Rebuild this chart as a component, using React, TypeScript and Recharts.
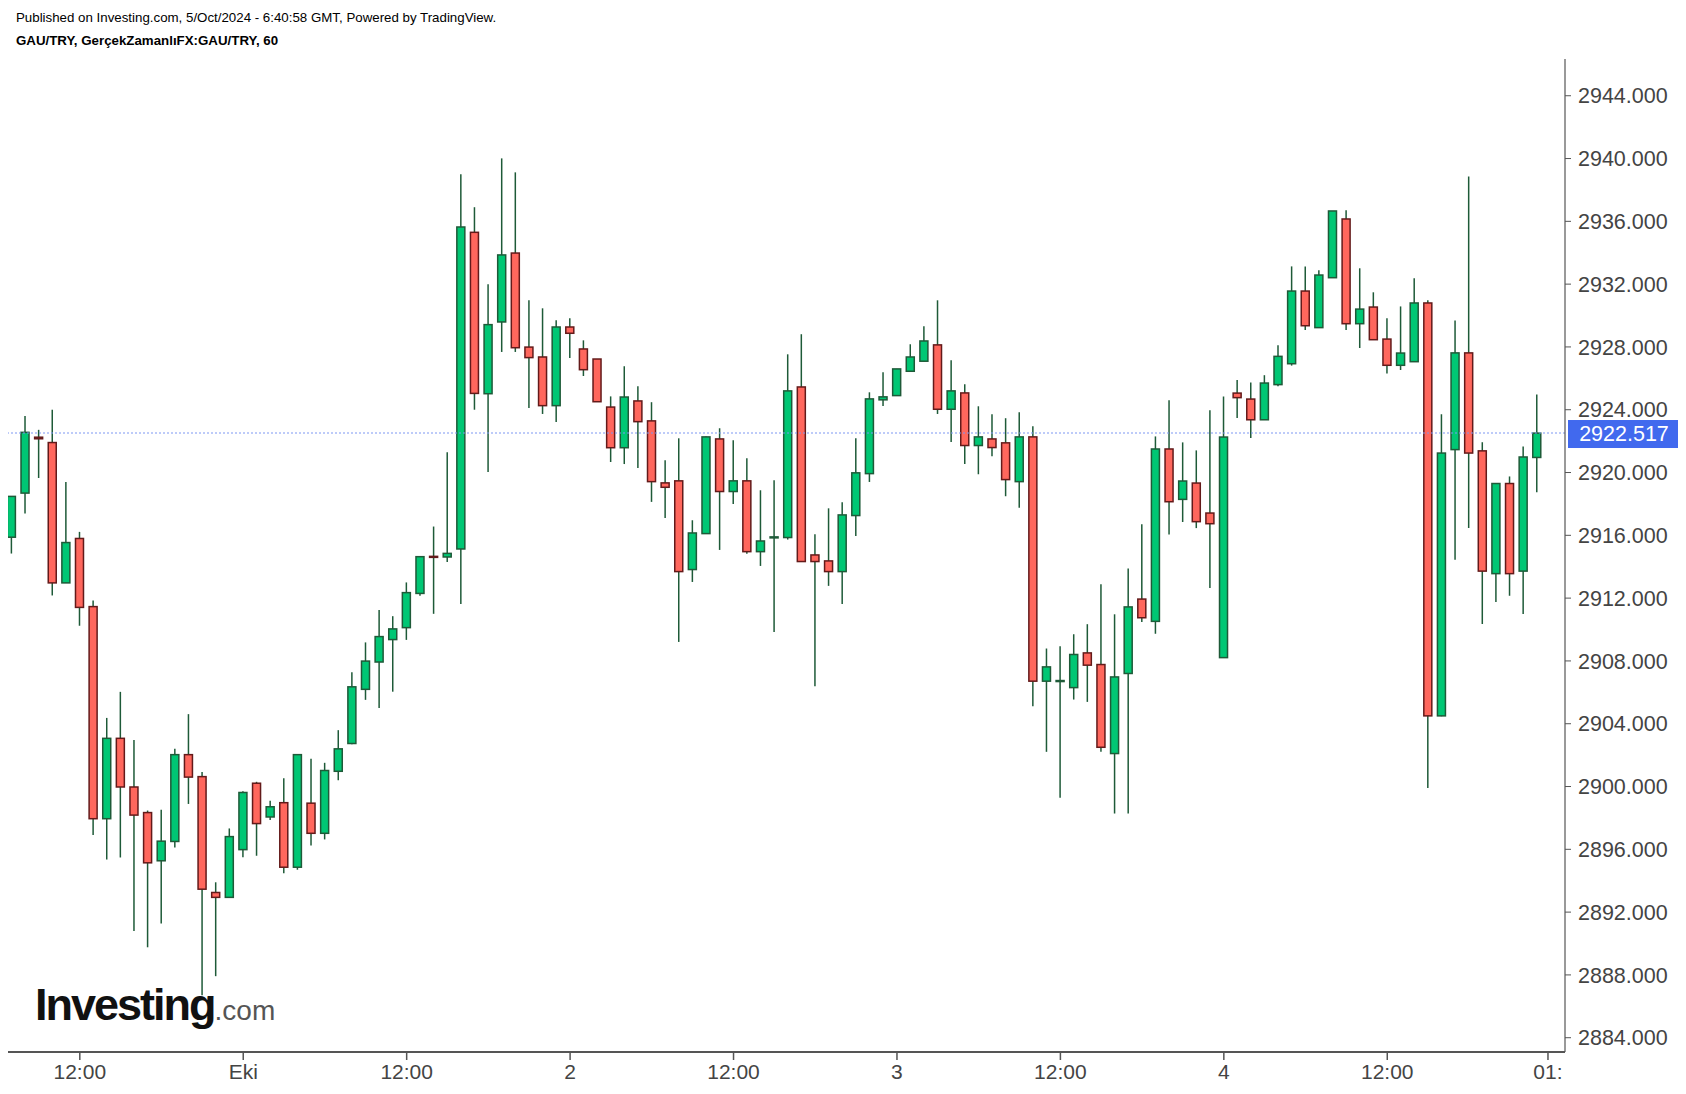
import React from 'react';
import { ComposedChart, Bar, XAxis, YAxis, ReferenceLine } from 'recharts';

// hourly candles, GAU/TRY
const opens = [
  2915.88, 2918.69, 2922.25, 2921.91, 2912.97, 2915.8, 2911.46, 2897.95, 2903.07, 2899.97,
  2898.34, 2895.27, 2896.5, 2902.03, 2900.63, 2893.25, 2892.94, 2895.98, 2900.21, 2898.06,
  2898.97, 2894.86, 2898.94, 2897.02, 2900.97, 2902.74, 2906.19, 2907.93, 2909.36, 2910.12,
  2912.3, 2914.66, 2914.62, 2915.13, 2935.3, 2925.02, 2929.59, 2933.98, 2927.99, 2927.36,
  2924.26, 2929.27, 2927.87, 2927.23, 2924.17, 2921.58, 2924.56, 2923.29, 2919.34, 2919.47,
  2913.82, 2916.11, 2922.14, 2918.79, 2919.47, 2914.96, 2915.88, 2915.86, 2925.45, 2914.75,
  2914.37, 2913.69, 2917.26, 2919.93, 2924.63, 2924.9, 2926.45, 2927.09, 2928.13, 2924.03,
  2925.07, 2921.72, 2922.14, 2921.89, 2919.42, 2922.27, 2906.71, 2906.72, 2906.3, 2908.51,
  2907.77, 2902.1, 2907.2, 2911.94, 2910.52, 2921.5, 2918.29, 2919.33, 2917.42, 2908.21,
  2925.06, 2924.68, 2923.36, 2925.6, 2926.93, 2931.56, 2929.23, 2932.41, 2936.15, 2929.48,
  2930.54, 2928.5, 2926.83, 2927.06, 2930.8, 2904.5, 2921.46, 2927.62, 2921.38, 2913.56,
  2919.3, 2913.72, 2920.96,
];
const highs = [
  2918.5, 2923.6, 2922.72, 2924.0, 2919.39, 2916.22, 2911.85, 2904.37, 2906.03, 2902.96,
  2898.47, 2898.52, 2902.4, 2904.61, 2900.92, 2893.9, 2897.33, 2899.7, 2900.3, 2899.1,
  2900.53, 2902.03, 2901.77, 2901.51, 2903.59, 2907.28, 2909.18, 2911.24, 2910.85, 2913.0,
  2914.64, 2916.56, 2921.29, 2939.0, 2936.9, 2931.99, 2940.01, 2939.12, 2930.97, 2930.46,
  2929.7, 2929.82, 2928.42, 2927.23, 2924.85, 2926.77, 2925.49, 2924.48, 2920.78, 2922.18,
  2916.96, 2922.3, 2922.82, 2922.06, 2920.91, 2918.87, 2919.51, 2927.53, 2928.81, 2916.07,
  2917.72, 2918.11, 2922.18, 2925.11, 2926.39, 2926.6, 2928.17, 2929.32, 2930.97, 2927.15,
  2925.62, 2924.22, 2923.71, 2923.46, 2923.84, 2922.95, 2908.79, 2908.94, 2909.7, 2910.34,
  2912.88, 2910.97, 2913.88, 2916.7, 2922.3, 2924.6, 2921.92, 2921.41, 2923.96, 2924.85,
  2925.9, 2925.74, 2926.2, 2928.1, 2933.13, 2933.13, 2932.88, 2936.66, 2936.7, 2933.01,
  2931.48, 2929.82, 2930.58, 2932.37, 2930.97, 2923.71, 2929.69, 2938.86, 2921.93, 2919.3,
  2919.75, 2921.65, 2924.97,
];
const lows = [
  2914.84, 2917.39, 2919.65, 2912.17, 2912.97, 2910.24, 2896.91, 2895.35, 2895.48, 2890.8,
  2889.76, 2891.27, 2896.11, 2898.89, 2886.7, 2887.92, 2892.9, 2895.5, 2895.59, 2897.87,
  2894.47, 2894.7, 2896.24, 2896.63, 2900.4, 2902.7, 2905.52, 2905.0, 2906.04, 2909.34,
  2912.15, 2911.0, 2914.3, 2911.63, 2924.0, 2920.03, 2927.68, 2927.68, 2924.11, 2923.73,
  2923.22, 2927.3, 2926.15, 2924.5, 2920.67, 2920.54, 2920.29, 2918.13, 2917.11, 2909.21,
  2913.03, 2916.1, 2915.07, 2918.0, 2914.82, 2914.05, 2909.85, 2915.73, 2914.3, 2906.39,
  2912.78, 2911.63, 2915.96, 2919.4, 2924.24, 2924.9, 2926.45, 2927.09, 2923.73, 2921.95,
  2920.55, 2919.89, 2921.04, 2918.49, 2917.75, 2905.11, 2902.21, 2899.28, 2905.54, 2905.39,
  2902.21, 2898.28, 2898.28, 2910.48, 2909.73, 2916.06, 2916.85, 2916.46, 2912.64, 2908.2,
  2923.47, 2922.2, 2923.36, 2925.5, 2926.81, 2929.08, 2929.2, 2932.4, 2929.08, 2927.93,
  2928.46, 2926.3, 2926.53, 2927.06, 2899.9, 2904.47, 2914.44, 2916.46, 2910.35, 2911.76,
  2912.15, 2910.99, 2918.75,
];
const closes = [
  2918.48, 2922.56, 2922.15, 2912.97, 2915.54, 2911.41, 2897.95, 2903.07, 2899.97, 2898.18,
  2895.14, 2896.52, 2902.03, 2900.6, 2893.46, 2892.94, 2896.81, 2899.62, 2897.64, 2898.71,
  2894.86, 2902.03, 2897.02, 2901.02, 2902.4, 2906.35, 2907.99, 2909.55, 2910.04, 2912.35,
  2914.64, 2914.6, 2914.85, 2935.64, 2925.04, 2929.42, 2933.86, 2927.95, 2927.32, 2924.26,
  2929.27, 2928.87, 2926.55, 2924.51, 2921.58, 2924.81, 2923.24, 2919.42, 2919.06, 2913.69,
  2916.15, 2922.27, 2918.79, 2919.47, 2914.96, 2915.64, 2915.9, 2925.2, 2914.33, 2914.33,
  2913.69, 2917.3, 2919.98, 2924.69, 2924.82, 2926.6, 2927.36, 2928.38, 2924.03, 2925.2,
  2921.72, 2922.27, 2921.59, 2919.55, 2922.27, 2906.71, 2907.62, 2906.75, 2908.41, 2907.73,
  2902.5, 2906.98, 2911.44, 2910.75, 2921.5, 2918.14, 2919.46, 2916.87, 2916.74, 2922.26,
  2924.77, 2923.36, 2925.7, 2927.4, 2931.56, 2929.35, 2932.58, 2936.66, 2929.48, 2930.41,
  2928.46, 2926.83, 2927.61, 2930.8, 2904.5, 2921.24, 2927.62, 2921.24, 2913.72, 2919.3,
  2913.56, 2920.99, 2922.51,
];

const timeTicks = [5, 17, 29, 41, 53, 65, 77, 89, 101, 112.8];
const timeLabels = ['12:00', 'Eki', '12:00', '2', '12:00', '3', '12:00', '4', '12:00', '01:'];
const priceTicks = [2884, 2888, 2892, 2896, 2900, 2904, 2908, 2912, 2916, 2920, 2924, 2928, 2932, 2936, 2940, 2944];
const lastPrice = 2922.517;

const UP = '#00C774';
const UP_EDGE = '#1E5A38';
const DOWN = '#FF675D';
const DOWN_EDGE = '#631A1A';
const WICK = '#1E5A38';
const FONT = '"Liberation Sans", Arial, sans-serif';

const data = opens.map((o, i) => ({ i, o, h: highs[i], l: lows[i], c: closes[i] }));

const Candle = (props: any) => {
  const { x, y, width, height, payload } = props;
  const { o, h, l, c } = payload;
  const cx = x + width / 2;
  const top = Math.min(y, y + height);
  const span = Math.abs(height);
  const k = span / (h - l);
  const bodyTop = top + (h - Math.max(o, c)) * k;
  const bodyH = Math.max(1, Math.abs(o - c) * k);
  const up = c >= o;
  return (
    <g>
      <line x1={cx} x2={cx} y1={top} y2={top + span} stroke={WICK} strokeWidth={1.5} />
      <rect
        x={cx - 4}
        y={bodyTop}
        width={8}
        height={bodyH}
        fill={up ? UP : DOWN}
        stroke={up ? UP_EDGE : DOWN_EDGE}
        strokeWidth={1.5}
      />
    </g>
  );
};

const PriceTag = (props: any) => {
  const { viewBox } = props;
  const right = viewBox.x + viewBox.width;
  const y = viewBox.y;
  return (
    <g>
      <rect x={right + 3} y={y - 13} width={110} height={28} fill="#4169EE" />
      <text
        x={right + 59}
        y={y + 1}
        fill="#fff"
        fontSize={21.5}
        fontFamily={FONT}
        textAnchor="middle"
        dominantBaseline="central"
      >
        {lastPrice.toFixed(3)}
      </text>
    </g>
  );
};

export default function App() {
  return (
    <div style={{ position: 'absolute', left: 0, top: 0, width: 1686, height: 1094, background: '#fff', fontFamily: FONT }}>
      <div style={{ position: 'absolute', left: 16, top: 10, fontSize: 13.3, lineHeight: '15px', color: '#000' }}>
        Published on Investing.com, 5/Oct/2024 - 6:40:58 GMT, Powered by TradingView.
      </div>
      <div style={{ position: 'absolute', left: 16, top: 33, fontSize: 13.3, lineHeight: '15px', fontWeight: 'bold', color: '#000' }}>
        GAU/TRY, GerçekZamanlıFX:GAU/TRY, 60
      </div>
      <ComposedChart width={1686} height={1094} data={data} margin={{ top: 59, right: 0, bottom: 2, left: 8 }}>
        <XAxis
          dataKey="i"
          type="number"
          domain={[-0.272, 114.05]}
          allowDataOverflow
          ticks={timeTicks}
          interval={0}
          tickFormatter={(v: number) => timeLabels[timeTicks.indexOf(v)] ?? ''}
          height={40}
          axisLine={{ stroke: '#555', strokeWidth: 2 }}
          tickLine={{ stroke: '#555', strokeWidth: 1.5 }}
          tickSize={8}
          tickMargin={4}
          tick={{ fill: '#444', fontSize: 21, fontFamily: FONT }}
        />
        <YAxis
          orientation="right"
          width={121}
          domain={[2883.09, 2946.34]}
          allowDataOverflow
          ticks={priceTicks}
          interval={0}
          tickFormatter={(v: number) => v.toFixed(3)}
          axisLine={{ stroke: '#555', strokeWidth: 1.2 }}
          tickLine={{ stroke: '#555' }}
          tickSize={6}
          tickMargin={7}
          tick={{ fill: '#444', fontSize: 21.5, fontFamily: FONT }}
        />
        <ReferenceLine
          y={lastPrice}
          stroke="#7D97F2"
          strokeDasharray="2 2"
          strokeWidth={1}
          label={<PriceTag />}
        />
        <Bar
          dataKey={(d: any) => [d.l, d.h]}
          barSize={9}
          shape={<Candle />}
          isAnimationActive={false}
        />
      </ComposedChart>
      <div style={{ position: 'absolute', left: 35, top: 979, whiteSpace: 'nowrap' }}>
        <span style={{ fontSize: 45, fontWeight: 'bold', letterSpacing: -2, color: '#111' }}>Investing</span>
        <span style={{ fontSize: 28, color: '#555' }}>.com</span>
      </div>
    </div>
  );
}
